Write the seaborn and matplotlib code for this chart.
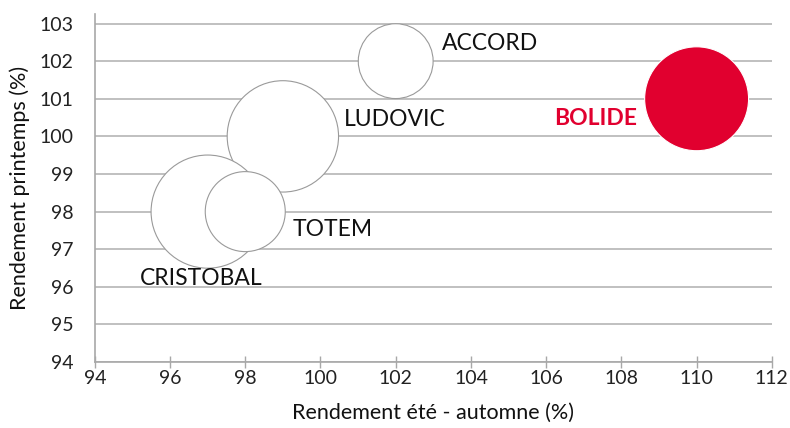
import matplotlib
matplotlib.use("Agg")
import matplotlib.pyplot as plt
import seaborn as sns
import pandas as pd

# data
varieties = ["ACCORD", "LUDOVIC", "CRISTOBAL", "TOTEM", "BOLIDE"]
rdt_ete_automne = [102, 99, 97, 98, 110]
rdt_printemps = [102, 100, 98, 98, 101]
bubble_size = [14, 31, 32, 16, 27]
x_ticks = [94, 96, 98, 100, 102, 104, 106, 108, 110, 112]
y_ticks = [94, 95, 96, 97, 98, 99, 100, 101, 102, 103]

RED = "#E1002F"
GREY_EDGE = "#9a9a9a"

df = pd.DataFrame({
    "variete": varieties,
    "x": rdt_ete_automne,
    "y": rdt_printemps,
    "taille": bubble_size,
})

# label offsets in points (dx, dy, ha)
label_offsets = {
    "ACCORD": (33, 13, "left"),
    "LUDOVIC": (44, 12, "left"),
    "CRISTOBAL": (-49, -48, "left"),
    "TOTEM": (34, -13, "left"),
    "BOLIDE": (-43, -14, "right"),
}

sns.set_style("white")
plt.rcParams["font.family"] = ["Lato", "DejaVu Sans"]

fig = plt.figure(figsize=(7.9, 4.28), dpi=100)
ax = fig.add_axes([0.120, 0.154, 0.857, 0.813])
ax.set_axisbelow(True)

palette = {v: (RED if v == "BOLIDE" else "white") for v in varieties}
edges = [("white" if v == "BOLIDE" else GREY_EDGE) for v in varieties]
smax = max(bubble_size)
sns.scatterplot(data=df, x="x", y="y", hue="variete", palette=palette,
                size="taille", sizes=(0, 2.0736 * 100 * smax), size_norm=(0, smax),
                edgecolor=edges, linewidth=0.8, alpha=1, legend=False, ax=ax,
                zorder=3)

for v, xv, yv in zip(varieties, rdt_ete_automne, rdt_printemps):
    dx, dy, ha = label_offsets[v]
    is_red = v == "BOLIDE"
    ax.annotate(v, (xv, yv), xytext=(dx, dy), textcoords="offset points",
                ha=ha, va="center", fontsize=16.5,
                color=RED if is_red else "#111111",
                fontweight="bold" if is_red else "normal", zorder=4)

ax.set_xlim(94, 112)
ax.set_ylim(94, 103.25)
ax.set_xticks(x_ticks)
ax.set_yticks(y_ticks)
ax.yaxis.grid(True, color="#b5b5b5", linewidth=1.2)
ax.xaxis.grid(False)

for side in ["top", "right"]:
    ax.spines[side].set_visible(False)
for side in ["left", "bottom"]:
    ax.spines[side].set_color("#a8a8a8")
    ax.spines[side].set_linewidth(1.2)

ax.tick_params(axis="x", bottom=True, direction="inout", length=8, width=1,
               color="#a8a8a8", labelsize=14, labelcolor="#222222", pad=2)
ax.tick_params(axis="y", left=False, labelsize=14, labelcolor="#222222", pad=12)

ax.set_xlabel("Rendement été - automne (%)", fontsize=15.5, color="#111111", labelpad=11)
ax.set_ylabel("Rendement printemps (%)", fontsize=15.5, color="#111111", labelpad=7)

fig.savefig("out.png", dpi=100)
